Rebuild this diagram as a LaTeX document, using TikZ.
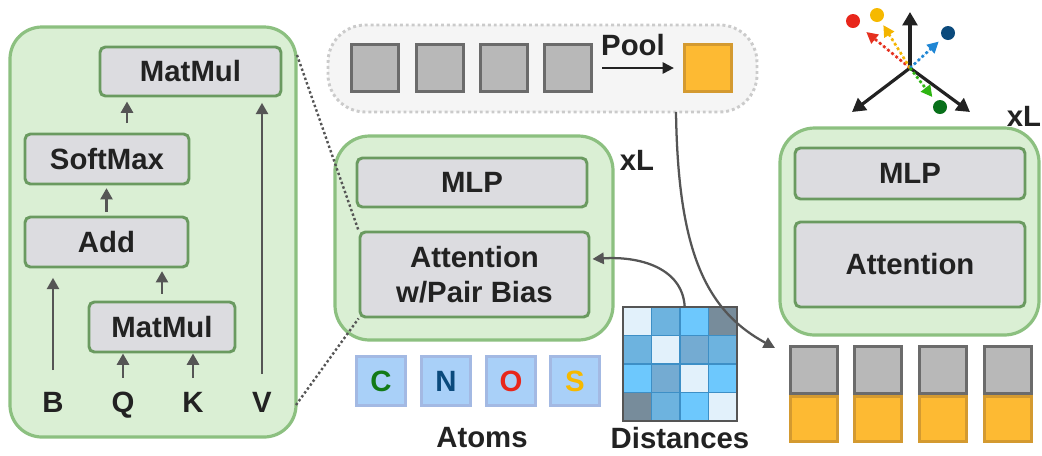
\documentclass[tikz,border=0pt]{standalone}
\usepackage{fontspec}
\setmainfont{Liberation Sans}
\usetikzlibrary{arrows.meta,fit,calc}
\definecolor{pgreen}{HTML}{DAEFD4}
\definecolor{pgreenb}{HTML}{8CC080}
\definecolor{bgray}{HTML}{DCDCE0}
\definecolor{bborder}{HTML}{6A9A60}
\definecolor{txt}{HTML}{222222}
\definecolor{arrg}{HTML}{555555}
\definecolor{tokg}{HTML}{B8B8B8}
\definecolor{tokgb}{HTML}{6B6B6B}
\definecolor{toko}{HTML}{FDBA33}
\definecolor{tokob}{HTML}{D49A30}
\definecolor{atomf}{HTML}{A9D0F8}
\definecolor{atomb}{HTML}{A3B9E3}
\definecolor{poolf}{HTML}{F5F5F5}
\definecolor{poolb}{HTML}{CBCBCB}
\definecolor{cC}{HTML}{137A17}
\definecolor{cN}{HTML}{0B4A7C}
\definecolor{cO}{HTML}{E8261B}
\definecolor{cS}{HTML}{F6B900}
\definecolor{redA}{HTML}{E5301F}
\definecolor{yelA}{HTML}{F3B400}
\definecolor{bluA}{HTML}{1F86D4}
\definecolor{bluD}{HTML}{0B4A7C}
\definecolor{grnA}{HTML}{2EB512}
\definecolor{grnD}{HTML}{08701A}
\definecolor{mA}{HTML}{E2F1FB}
\definecolor{mB}{HTML}{6DB3DF}
\definecolor{mC}{HTML}{6DC8FD}
\definecolor{mD}{HTML}{778C9B}
\definecolor{mE}{HTML}{74ABD2}
\definecolor{mgrid}{HTML}{3D8FC6}
\begin{document}
\begin{tikzpicture}[x=0.75pt,y=-0.75pt,
  font=\fontsize{22}{26.5}\selectfont\bfseries, text=txt,
  panel/.style={draw=pgreenb, fill=pgreen, line width=2.4pt, rounded corners=24pt, inner sep=0pt},
  block/.style={draw=bborder, fill=bgray, line width=2.2pt, rounded corners=4pt, inner sep=0pt, align=center},
  arr/.style={draw=arrg, line width=2pt, -{Triangle[length=8.5pt,width=9pt]}},
  lbl/.style={inner sep=0pt, anchor=base},
  gtok/.style={draw=tokgb, fill=tokg, line width=2.2pt, minimum size=35pt, inner sep=0pt},
  otok/.style={draw=tokob, fill=toko, line width=2.2pt, minimum size=35pt, inner sep=0pt},
  atom/.style={draw=atomb, fill=atomf, line width=2.2pt, minimum size=37pt, inner sep=0pt},
  dotc/.style={draw=arrg, line width=1.8pt, dash pattern=on 1.8pt off 1.8pt},
  axis/.style={draw=txt, line width=2.4pt, -{Triangle[length=10pt,width=11pt]}},
  carr/.style={line width=2pt, dash pattern=on 2pt off 2pt, -{Triangle[length=8.5pt,width=8.5pt]}},
  dot/.style={circle, inner sep=0pt, minimum size=10.5pt},
  curv/.style={draw=arrg, line width=1.7pt, -{Triangle[length=8.5pt,width=8.5pt]}},
]
\useasboundingbox (0,0) rectangle (1042,455);

% ---------- left panel ----------
\node[panel, fit={(10,27)(296,437)}] (lp) {};
\node[block, minimum width=135.75pt, minimum height=36.75pt] (mm1) at (190.5,71.5) {MatMul};
\node[block, minimum width=123pt, minimum height=37.5pt] (sm) at (107,159) {SoftMax};
\node[block, minimum width=122.25pt, minimum height=37.5pt] (add) at (106.5,242) {Add};
\node[block, minimum width=109.5pt, minimum height=37.5pt] (mm2) at (162,327) {MatMul};
\node[lbl] (B) at (53,412) {B};
\node[lbl] (Q) at (123,412) {Q};
\node[lbl] (K) at (193,412) {K};
\node[lbl] (V) at (262,412) {V};
\draw[arr, shorten <=7pt, shorten >=3pt] ([xshift=15pt]sm.north) -- ([xshift=15pt]sm.north |- mm1.south);
\draw[arr, shorten <=3pt, shorten >=2pt] (add.north) -- (add.north |- sm.south);
\draw[arr, shorten <=5pt, shorten >=2pt] (mm2.north) -- (mm2.north |- add.south);
\draw[arr, shorten <=16pt, shorten >=7pt] (B.north) -- (B.north |- add.south);
\draw[arr, shorten <=10pt, shorten >=0pt] (Q.north) -- (Q.north |- mm2.south);
\draw[arr, shorten <=10pt, shorten >=0pt] (K.north) -- (K.north |- mm2.south);
\draw[arr, shorten <=13pt, shorten >=4pt] (V.north) -- (V.north |- mm1.south);

% ---------- pool region ----------
\node[fit={(328,25)(757,112)}, draw=poolb, fill=poolf, line width=2.2pt, dash pattern=on 2.2pt off 2.2pt, rounded corners=28pt, inner sep=0pt] (pool) {};
\foreach \i/\cx in {1/375,2/440,3/504,4/568}{
  \node[gtok] (g\i) at (\cx,68) {};
}
\node[otok] (ot) at (708,68) {};
\node[lbl] (poollbl) at (633,55) {Pool};
\draw[draw=txt, line width=1.6pt, -{Triangle[length=8.5pt,width=8.5pt]}, shorten <=7pt, shorten >=7pt] (g4.east) -- (ot.west);

% ---------- middle panel ----------
\node[panel, fit={(335,136)(613,340)}, rounded corners=26pt] (mp) {};
\node[block, minimum width=172.5pt, minimum height=36.75pt] (mlp1) at (472,182.5) {MLP};
\node[block, minimum width=171.75pt, minimum height=63.75pt] (att) at (474.5,274.5) {Attention\\w/Pair Bias};
\node[lbl] (xl1) at (637,170) {xL};

% dotted zoom lines
\coordinate (lc1) at (297,55);
\coordinate (lc2) at (296,405);
\draw[dotc] (lc1) -- (att.north west);
\draw[dotc] (lc2) -- (att.south west);

% ---------- atoms ----------
\node[atom, text=cC] (aC) at (381,381) {C};
\node[atom, text=cN] (aN) at (446,381) {N};
\node[atom, text=cO] (aO) at (511,381) {O};
\node[atom, text=cS] (aS) at (575,381) {S};
\node[lbl] (atoms) at (482,447) {Atoms};

% ---------- distance matrix ----------
\def\cs{28.5}
\foreach \r/\ca/\cb/\cc/\cd in {0/mA/mB/mC/mD,1/mB/mA/mE/mB,2/mC/mE/mA/mC,3/mD/mB/mC/mA}{
  \fill[\ca] (623,{307+\r*\cs}) rectangle ++(\cs,\cs);
  \fill[\cb] ({623+\cs},{307+\r*\cs}) rectangle ++(\cs,\cs);
  \fill[\cc] ({623+2*\cs},{307+\r*\cs}) rectangle ++(\cs,\cs);
  \fill[\cd] ({623+3*\cs},{307+\r*\cs}) rectangle ++(\cs,\cs);
}
\foreach \k in {1,2,3}{
  \draw[mgrid, line width=0.8pt] ({623+\k*\cs},307) -- ({623+\k*\cs},421);
  \draw[mgrid, line width=0.8pt] (623,{307+\k*\cs}) -- (737,{307+\k*\cs});
}
\node[fit={(623,307)(737,421)}, draw=arrg, line width=1.3pt, inner sep=0pt] (dist) {};
\node[lbl] (distlbl) at (680,448) {Distances};
\draw[curv, shorten >=1.5pt] ([xshift=3.5pt]dist.north) .. controls (682,268) and (640,256) .. ([yshift=11.5pt]att.east);

% ---------- right panel ----------
\node[panel, fit={(780,128)(1039,335)}, rounded corners=26pt] (rp) {};
\node[block, minimum width=172.5pt, minimum height=38.25pt] (mlp2) at (910,173.5) {MLP};
\node[block, minimum width=172.5pt, minimum height=63.75pt] (att2) at (910,264.5) {Attention};
\node[lbl] (xl2) at (1024,126) {xL};

% output tokens
\foreach \i/\cx in {1/814,2/878,3/943,4/1008}{
  \node[otok, minimum height=34pt] (o\i) at (\cx,419) {};
  \node[gtok, minimum height=35pt] (t\i) at (\cx,370) {};
}

% pooled curve
\coordinate (ps) at (676,112);
\coordinate (pe) at (775,348);
\draw[curv] (ps) .. controls (678,250) and (705,310) .. (pe);

% ---------- axes ----------
\coordinate (orig) at (910,68);
\node[dot, fill=cO] (dr) at (853,21) {};
\node[dot, fill=cS] (dy) at (877,15) {};
\node[dot, fill=bluD] (db) at (948,33) {};
\node[dot, fill=grnD] (dg) at (940,107) {};
\coordinate (axu) at (910,12);
\coordinate (axl) at (852,112);
\coordinate (axr) at (970,112);
\draw[axis] (orig) -- (axu);
\draw[axis] (orig) -- (axl);
\draw[axis] (orig) -- (axr);
\draw[carr, draw=redA, fill=redA, shorten >=7.5pt] (orig) -- (dr);
\draw[carr, draw=yelA, fill=yelA, shorten >=3.5pt] (orig) -- (dy);
\draw[carr, draw=bluA, fill=bluA, shorten >=4pt] (orig) -- (db);
\draw[carr, draw=grnA, fill=grnA, shorten >=4pt] (orig) -- (dg);
\end{tikzpicture}
\end{document}
